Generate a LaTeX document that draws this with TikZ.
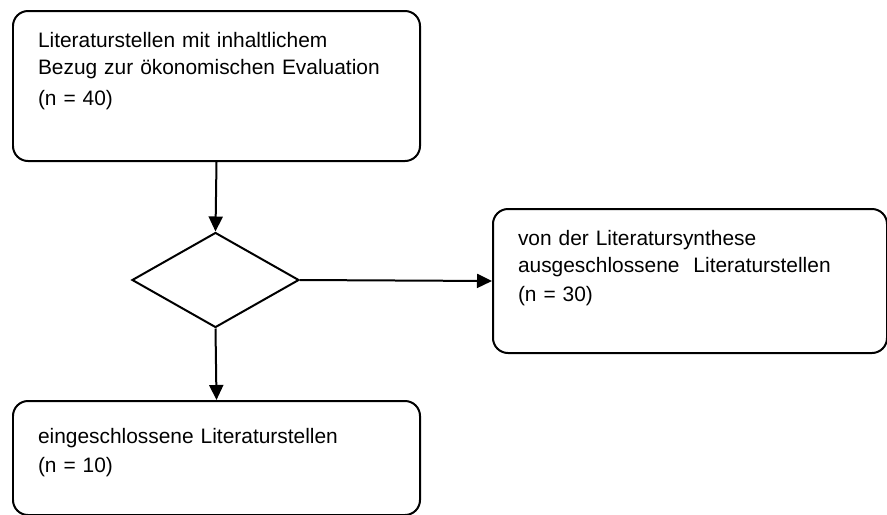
\documentclass[tikz,border=0pt]{standalone}
\usepackage{fontspec}
\setmainfont{Liberation Sans}
\usetikzlibrary{arrows.meta}
\usetikzlibrary{shapes.geometric}
\usetikzlibrary{positioning}
\tikzset{stelle/.style = {draw, rounded corners = 0.3cm, inner xsep = 0.5cm, inner ysep = 0, align = left, anchor = north west, font = \fontsize{11.9}{15.4}\selectfont}}
\tikzset{pfeil/.style = {-{Triangle[length = 0.3cm, width = 0.28cm]}}}

\begin{document}
\begin{tikzpicture}[line width = 0.04cm]
      \useasboundingbox (0, 0) rectangle (17.74, -10.3);
      \node [stelle, text width = 7.14cm, text height = 0.72cm, text depth = 2.28cm] (lit) at (0.24, -0.2)
        {Literaturstellen mit inhaltlichem\\ Bezug zur ökonomischen Evaluation\\[0.09cm] (n = 40)};
      \node [draw, diamond, inner sep = 0, minimum width = 3.34cm, minimum height = 1.9cm] (wahl) at (4.31, -5.6) {};
      \node [stelle, text width = 6.88cm, text height = 0.72cm, text depth = 2.16cm] (aus) at (9.84, -4.16)
        {von der Literatursynthese\\ ausgeschlossene\ \ Literaturstellen\\[0.05cm] (n = 30)};
      \node [stelle, text width = 7.14cm, text height = 0.84cm, text depth = 1.44cm] (ein) at (0.24, -8.0)
        {eingeschlossene Literaturstellen\\[0.05cm] (n = 10)};
      \draw [pfeil] (lit.south) -- (wahl.north);
      \draw [pfeil] (wahl.east) -- (aus.west);
      \draw [pfeil] (wahl.south) -- (ein.north);
    \end{tikzpicture}
\end{document}
